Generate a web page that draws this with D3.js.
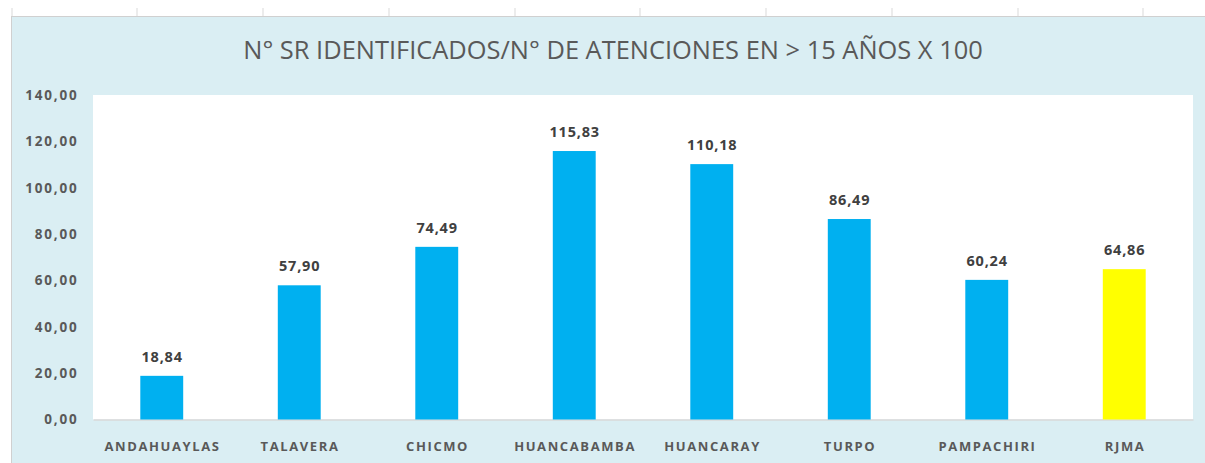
<!DOCTYPE html>
<html><head><meta charset="utf-8">
<script src="https://cdn.jsdelivr.net/npm/d3@7"></script>
<style>html,body{margin:0;padding:0;background:#fff;}svg{display:block;}</style>
</head><body>
<script>
const categories = ["ANDAHUAYLAS","TALAVERA","CHICMO","HUANCABAMBA","HUANCARAY","TURPO","PAMPACHIRI","RJMA"];
const values = [18.84, 57.90, 74.49, 115.83, 110.18, 86.49, 60.24, 64.86];
const highlight = ["RJMA"];
const yTicks = [0,20,40,60,80,100,120,140];
const title = "N° SR IDENTIFICADOS/N° DE ATENCIONES EN > 15 AÑOS X 100";

const W = 1205, H = 463;
const svg = d3.select("body").append("svg").attr("width", W).attr("height", H);
const font = "'Open Sans', 'DejaVu Sans', sans-serif";
const fmt = v => d3.format(".2f")(v).replace(".", ",");

// sheet grid remnants at top
svg.append("rect").attr("x",0).attr("y",0).attr("width",W).attr("height",H).attr("fill","#fff");
const gridX = [12,137,263,389,515,640,766,892,1018,1143];
svg.selectAll("line.gx").data(gridX).enter().append("line")
  .attr("x1",d=>d).attr("x2",d=>d).attr("y1",8).attr("y2",16)
  .attr("stroke","#d9d9d9").attr("stroke-width",1);
// chart area background
svg.append("rect").attr("x",11).attr("y",16.5).attr("width",W-11).attr("height",H-16.5)
  .attr("fill","#DAEEF3");
svg.append("line").attr("x1",11).attr("x2",W).attr("y1",16.5).attr("y2",16.5).attr("stroke","#d0d0d0");
svg.append("line").attr("x1",11.5).attr("x2",11.5).attr("y1",16).attr("y2",H).attr("stroke","#d0d0d0");

const m = {left:93, right:1193, top:95, bottom:419.5};
svg.append("rect").attr("x",m.left).attr("y",m.top).attr("width",m.right-m.left).attr("height",m.bottom-m.top).attr("fill","#fff");

const x = d3.scaleBand().domain(categories).range([m.left, m.right]).paddingInner(0.688).paddingOuter(0.344);
const y = d3.scaleLinear().domain([0,140]).range([m.bottom, m.top]);

// title
const t = svg.append("text").attr("x", 613).attr("y", 59).attr("text-anchor","middle")
  .attr("font-family", font).attr("font-size", 22).attr("fill","#595959").text(title);
const tw = t.node().getComputedTextLength();
t.attr("font-size", 22 * 740 / tw);

// y axis
const yAxis = d3.axisLeft(y).tickValues(yTicks).tickFormat(fmt).tickSize(0).tickPadding(0);
const gy = svg.append("g").attr("transform", `translate(${78.5},0)`).call(yAxis);
gy.select(".domain").remove();
gy.selectAll("text").attr("font-family", font).attr("font-size", 13.5).attr("font-weight","bold")
  .attr("letter-spacing", 1.8).attr("fill","#595959");

// x axis
const xAxis = d3.axisBottom(x).tickSize(0).tickPadding(0);
const gx = svg.append("g").attr("transform", `translate(0,${m.bottom})`).call(xAxis);
gx.select(".domain").attr("stroke","#d9d9d9").attr("stroke-width",1.5);
gx.selectAll("text").attr("font-family", font).attr("font-size", 13).attr("font-weight","bold")
  .attr("letter-spacing", 1.6).attr("fill","#595959").attr("dy", null).attr("y", 31)
  .attr("dx", 0.8);

// bars
svg.selectAll("rect.bar").data(categories).enter().append("rect").attr("class","bar")
  .attr("x", d=>x(d)).attr("width", x.bandwidth())
  .attr("y", (d,i)=>y(values[i])).attr("height", (d,i)=>y(0)-y(values[i]))
  .attr("fill", d=> highlight.includes(d) ? "#FFFF00" : "#00B0F0");

// data labels
svg.selectAll("text.lbl").data(categories).enter().append("text").attr("class","lbl")
  .attr("x", d=>x(d)+x.bandwidth()/2 + 0.4).attr("y", (d,i)=>y(values[i]) - 14)
  .attr("text-anchor","middle").attr("font-family", font).attr("font-size", 14.5).attr("font-weight","bold")
  .attr("letter-spacing", 0.8).attr("fill","#404040").text((d,i)=>fmt(values[i]));
</script>
</body></html>
